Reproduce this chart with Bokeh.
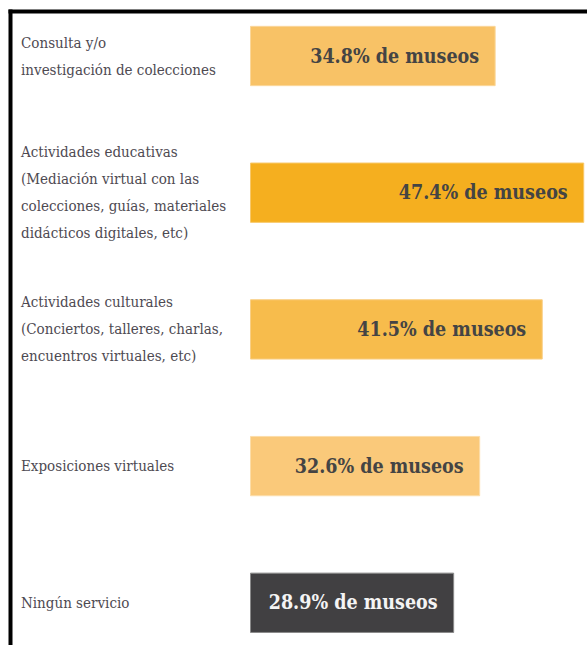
from bokeh.plotting import figure
from bokeh.models import Range1d, ColumnDataSource, BoxAnnotation
from bokeh.core.properties import value
from bokeh.embed import file_html
from bokeh.resources import INLINE

categories = [
    "Consulta y/o\ninvestigación de colecciones",
    "Actividades educativas\n(Mediación virtual con las\ncolecciones, guías, materiales\ndidácticos digitales, etc)",
    "Actividades culturales\n(Conciertos, talleres, charlas,\nencuentros virtuales, etc)",
    "Exposiciones virtuales",
    "Ningún servicio",
]
values = [34.8, 47.4, 41.5, 32.6, 28.9]
bar_colors = ["#F8C266", "#F5AF1F", "#F7BC4C", "#FAC97A", "#414042"]
edge_colors = ["#FBD79A", "#F8C86A", "#F9CF85", "#FCDDA8", "#8A8A8A"]
text_colors = ["#444444", "#444444", "#444444", "#444444", "#F4F4F4"]

W, H = 587, 645
XS = 7.03      # px per percent
YS = 136.7     # px per category step
x_start, x_end = -250 / XS, (W - 250) / XS
y_top, y_bottom = -55.5 / YS, (H - 55.5) / YS

p = figure(width=W, height=H, output_backend="svg", toolbar_location=None,
           x_range=Range1d(x_start, x_end), y_range=Range1d(y_bottom, y_top),
           min_border=0)
p.border_fill_color = "white"
p.background_fill_color = "white"
p.outline_line_color = None
p.xaxis.visible = False
p.yaxis.visible = False
p.grid.visible = False

# black frame lines (left and top) of the original panel
p.add_layout(BoxAnnotation(left=x_start + 8 / XS, right=x_start + 12 / XS,
                           top=y_top + 9 / YS, bottom=y_bottom,
                           fill_color="black", fill_alpha=1, line_color=None))
p.add_layout(BoxAnnotation(left=x_start + 8 / XS, right=x_end,
                           top=y_top + 9 / YS, bottom=y_top + 13 / YS,
                           fill_color="black", fill_alpha=1, line_color=None))

idx = list(range(len(categories)))
src = ColumnDataSource(dict(
    y=idx, v=values, left=[0] * len(values), color=bar_colors, edge=edge_colors,
    tcolor=text_colors, cat=categories,
    vlabel=[f"{v:.1f}% de museos" for v in values],
    lx=[x_start] * len(values),
))

p.hbar(y="y", left="left", right="v", height=0.434, fill_color="color",
       line_color="edge", line_width=1, source=src)

p.text(x="v", y="y", text="vlabel", source=src, x_offset=-16,
       text_align="right", text_baseline="middle",
       text_font=value("DejaVu Serif Condensed"), text_font_style="bold",
       text_font_size="19.5px", text_color="tcolor")

p.text(x="lx", y="y", text="cat", source=src, x_offset=20.5,
       text_align="left", text_baseline="middle",
       text_font=value("DejaVu Serif Condensed"),
       text_font_size="15px", text_color="#4E4A52", text_line_height=1.5)

open("out.html", "w").write(file_html(p, INLINE))
